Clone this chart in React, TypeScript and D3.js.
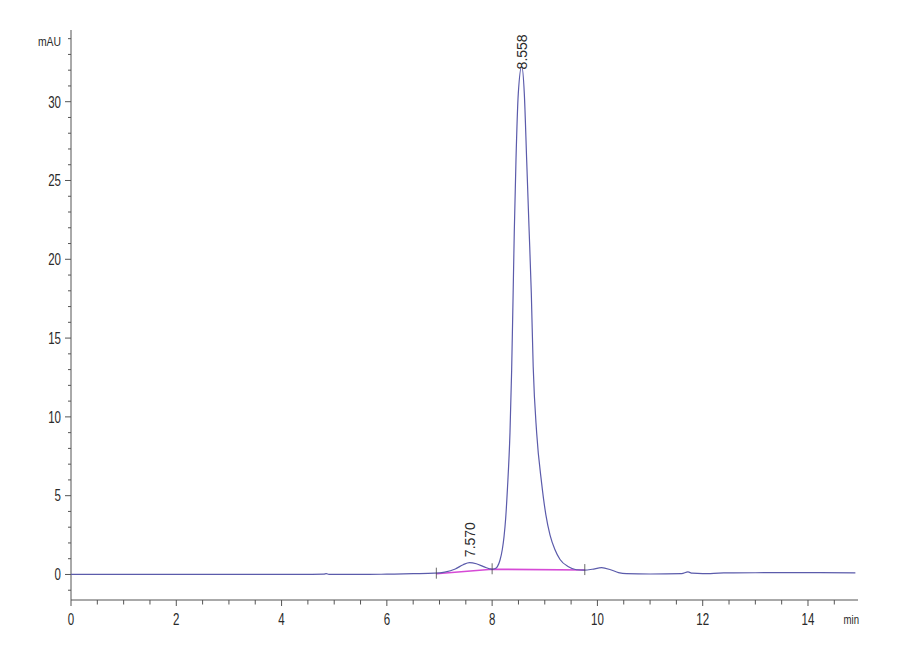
import React, { useRef, useEffect } from 'react';
import * as d3 from 'd3';

// chromatogram trace (min, mAU)
const times = [
  0, 0.5, 1, 1.5, 2, 2.5, 3, 3.5, 4, 4.5, 4.8, 4.85, 4.9, 5.5, 6, 6.5, 6.9,
  7.1, 7.3, 7.45, 7.57, 7.7, 7.85, 7.95, 8.0, 8.05, 8.1, 8.15, 8.194, 8.226,
  8.258, 8.29, 8.339, 8.371, 8.397, 8.421, 8.453, 8.497, 8.562, 8.611, 8.656,
  8.7, 8.744, 8.78, 8.846, 8.94, 9.02, 9.1, 9.19, 9.29, 9.45, 9.6, 9.76, 9.9,
  10.08, 10.25, 10.4, 10.55, 11.0, 11.6, 11.72, 11.8, 12.0, 12.4, 13.0, 14.0,
  14.9,
];
const signal = [
  0, 0, 0, 0, 0, 0.01, 0, 0.01, 0, 0.01, 0.02, 0.05, 0.01, 0, 0.02, 0.05, 0.08,
  0.15, 0.35, 0.62, 0.75, 0.68, 0.48, 0.36, 0.33, 0.36, 0.5, 0.92, 1.6, 2.4,
  3.6, 5.4, 9.0, 13.0, 17.5, 21.8, 26.3, 30.53, 32.25, 30.53, 26.3,
  22.07, 17.86, 13.18, 8.98, 5.8, 3.8, 2.5, 1.6, 0.95, 0.49, 0.3, 0.28, 0.33,
  0.43, 0.3, 0.12, 0.05, 0.03, 0.05, 0.16, 0.08, 0.05, 0.1, 0.11, 0.12,
  0.1,
];

// integration baseline and peak boundaries
const boundaryTimes = [6.94, 8.0, 9.76];
const boundaryValues = [0.05, 0.33, 0.28];

// peak annotations
const peakTimes = [7.57, 8.558];
const peakLabels = ['7.570', '8.558'];
const peakLabelValues = [1.1, 32.05];

const xMajorTicks = [0, 2, 4, 6, 8, 10, 12, 14];
const yMajorTicks = [0, 5, 10, 15, 20, 25, 30];

const App: React.FC = () => {
  const svgRef = useRef<SVGSVGElement>(null);

  useEffect(() => {
    const svg = d3.select(svgRef.current);
    svg.selectAll('*').remove();

    const x = d3.scaleLinear().domain([0, 14.95]).range([71, 858]);
    const y = d3.scaleLinear().domain([-1.62, 34.55]).range([600, 30]);
    const axisColor = '#555';
    const textColor = '#2a2a2a';
    const font = '"Liberation Sans", Arial, sans-serif';

    // x axis
    const gx = svg.append('g');
    gx.append('line')
      .attr('x1', x(0)).attr('x2', x(14.95))
      .attr('y1', y(-1.62)).attr('y2', y(-1.62))
      .attr('stroke', axisColor);
    gx.selectAll('line.minor')
      .data(d3.range(0, 15, 0.5))
      .enter()
      .append('line')
      .attr('class', 'minor')
      .attr('x1', (d) => x(d)).attr('x2', (d) => x(d))
      .attr('y1', 600)
      .attr('y2', (d) => (d % 2 === 0 ? 606 : 604.5))
      .attr('stroke', axisColor);
    gx.selectAll('text')
      .data(xMajorTicks)
      .enter()
      .append('text')
      .attr('transform', (d) => `translate(${x(d)},625) scale(0.72,1)`)
      .attr('text-anchor', 'middle')
      .attr('font-family', font)
      .attr('font-size', 16)
      .attr('fill', textColor)
      .text((d) => d);
    gx.append('text')
      .attr('transform', 'translate(859,623.5) scale(0.8,1)')
      .attr('text-anchor', 'end')
      .attr('font-family', font)
      .attr('font-size', 12)
      .attr('fill', textColor)
      .text('min');

    // y axis
    const gy = svg.append('g');
    gy.append('line')
      .attr('x1', 71).attr('x2', 71)
      .attr('y1', y(34.55)).attr('y2', y(-1.62))
      .attr('stroke', axisColor);
    gy.selectAll('line.minor')
      .data(d3.range(-1, 35, 1))
      .enter()
      .append('line')
      .attr('class', 'minor')
      .attr('x1', (d) => (d % 5 === 0 ? 65 : 68))
      .attr('x2', 71)
      .attr('y1', (d) => y(d)).attr('y2', (d) => y(d))
      .attr('stroke', axisColor);
    gy.selectAll('text')
      .data(yMajorTicks)
      .enter()
      .append('text')
      .attr('transform', (d) => `translate(61,${y(d) + 5.8}) scale(0.72,1)`)
      .attr('text-anchor', 'end')
      .attr('font-family', font)
      .attr('font-size', 16)
      .attr('fill', textColor)
      .text((d) => d);
    gy.append('text')
      .attr('transform', 'translate(61,46) scale(0.83,1)')
      .attr('text-anchor', 'end')
      .attr('font-family', font)
      .attr('font-size', 12.5)
      .attr('fill', textColor)
      .text('mAU');

    // integration baseline
    const baseLine = d3
      .line<number>()
      .x((d) => x(boundaryTimes[d]))
      .y((d) => y(boundaryValues[d]));
    svg.append('path')
      .attr('d', baseLine(d3.range(boundaryTimes.length)))
      .attr('fill', 'none')
      .attr('stroke', '#d64ad6')
      .attr('stroke-width', 1.6);

    // trace
    const trace = d3
      .line<number>()
      .x((d) => x(times[d]))
      .y((d) => y(signal[d]))
      .curve(d3.curveMonotoneX);
    svg.append('path')
      .attr('d', trace(d3.range(times.length)))
      .attr('fill', 'none')
      .attr('stroke', '#5b5bab')
      .attr('stroke-width', 1.2);

    // boundary marks
    svg.selectAll('line.boundary')
      .data(boundaryTimes)
      .enter()
      .append('line')
      .attr('class', 'boundary')
      .attr('x1', (d) => x(d)).attr('x2', (d) => x(d))
      .attr('y1', (_, i) => y(boundaryValues[i]) - 6)
      .attr('y2', (_, i) => y(boundaryValues[i]) + 5)
      .attr('stroke', '#444')
      .attr('stroke-width', 0.8);

    // peak labels
    svg.selectAll('text.peak')
      .data(peakTimes)
      .enter()
      .append('text')
      .attr('class', 'peak')
      .attr('transform', (d, i) => `translate(${x(d) + 5},${y(peakLabelValues[i])}) rotate(-90)`)
      .attr('font-family', font)
      .attr('font-size', 14)
      .attr('fill', textColor)
      .text((_, i) => peakLabels[i]);
  }, []);

  return (
    <svg
      ref={svgRef}
      width={900}
      height={660}
      style={{ position: 'absolute', left: 0, top: 0, background: '#fff' }}
    />
  );
};

export default App;
